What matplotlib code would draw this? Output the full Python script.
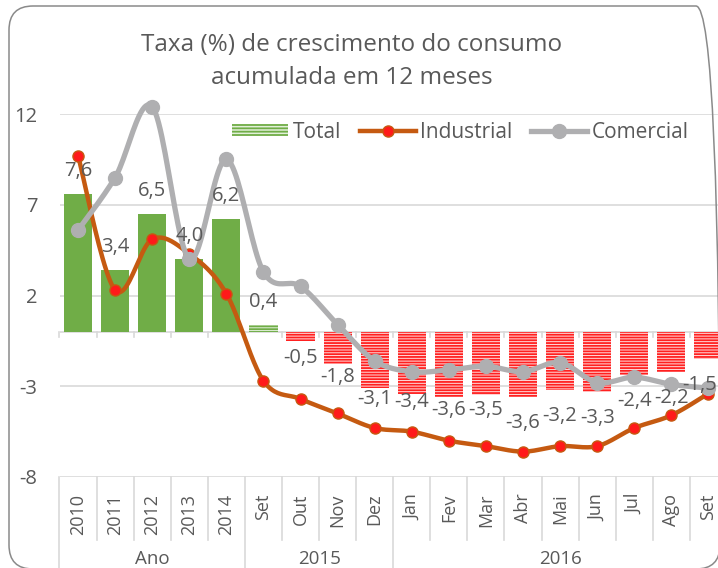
import matplotlib.pyplot as plt
import matplotlib.patches as mpatches
import matplotlib.transforms as mtransforms
from matplotlib.lines import Line2D
import numpy as np

plt.rcParams['font.family'] = ['Open Sans', 'DejaVu Sans']
plt.rcParams['hatch.linewidth'] = 1.3

CATEGORIES = ['2010', '2011', '2012', '2013', '2014',
              'Set', 'Out', 'Nov', 'Dez',
              'Jan', 'Fev', 'Mar', 'Abr', 'Mai', 'Jun', 'Jul', 'Ago', 'Set']
GROUPS = ['Ano', '2015', '2016']
GROUP_SIZES = [5, 4, 9]

TOTAL = [7.6, 3.4, 6.5, 4.0, 6.2, 0.4, -0.5, -1.8, -3.1, -3.4, -3.6, -3.5,
         -3.6, -3.2, -3.3, -2.4, -2.2, -1.5]
INDUSTRIAL = [9.7, 2.3, 5.1, 4.3, 2.1, -2.7, -3.7, -4.5, -5.3, -5.5, -6.0,
              -6.3, -6.6, -6.3, -6.3, -5.3, -4.6, -3.4]
COMERCIAL = [5.6, 8.5, 12.4, 4.0, 9.5, 3.3, 2.5, 0.4, -1.6, -2.2, -2.1,
             -1.9, -2.2, -1.7, -2.8, -2.5, -2.9, -3.1]

GREEN = '#70ad47'
RED = '#ff2020'
ORANGE = '#c55a11'
GREY_LINE = '#afafb1'
TEXT = '#595959'
GRID = '#d9d9d9'

W, H = 718, 568
# labels Excel pulled upward (px) to avoid the lines
LABEL_LIFT = {6: 9, 7: 13, 8: 15, 9: 18, 10: 13, 11: 11}


def fx(px):
    return px / W


def fy(py):
    return 1 - py / H


def smooth(xs, ys, steps=24):
    # Excel-like smoothed line (Catmull-Rom as cubic Bezier)
    p = np.column_stack([xs, ys]).astype(float)
    p = np.vstack([p[0], p, p[-1]])
    t = np.linspace(0, 1, steps)[:, None]
    out = []
    for i in range(1, len(p) - 2):
        b0 = p[i]
        b1 = p[i] + (p[i + 1] - p[i - 1]) / 6
        b2 = p[i + 1] - (p[i + 2] - p[i]) / 6
        b3 = p[i + 1]
        seg = ((1 - t) ** 3) * b0 + 3 * ((1 - t) ** 2) * t * b1 \
            + 3 * (1 - t) * t ** 2 * b2 + t ** 3 * b3
        out.append(seg if i == 1 else seg[1:])
    out = np.vstack(out)
    return out[:, 0], out[:, 1]


fig = plt.figure(figsize=(W / 100, H / 100), dpi=100)
ax = fig.add_axes([fx(59.5), fy(477), fx(727) - fx(59.5), fy(114) - fy(477)])

n = len(CATEGORIES)
x = np.arange(n)
annual = np.arange(n) < GROUP_SIZES[0]

# bars
for i, v in enumerate(TOTAL):
    if annual[i]:
        ax.bar(i, v, 0.76, color=GREEN, linewidth=0, zorder=2)
    elif v >= 0:
        ax.bar(i, v, 0.76, facecolor='#e2f0d9', edgecolor=GREEN,
               hatch='------', linewidth=0, zorder=2)
    else:
        ax.bar(i, v, 0.76, facecolor='#ffe0e0', edgecolor=RED,
               hatch='------', linewidth=0, zorder=2)

# lines
sx, sy = smooth(x, INDUSTRIAL)
ax.plot(sx, sy, color=ORANGE, lw=3.2, zorder=4, clip_on=False,
        solid_capstyle='round')
ax.plot(x, INDUSTRIAL, 'o', color='#ff1a1a', mec=ORANGE, mew=1.0, ms=8,
        zorder=4, clip_on=False)
sx, sy = smooth(x, COMERCIAL)
ax.plot(sx, sy, color=GREY_LINE, lw=3.8, zorder=5, clip_on=False,
        solid_capstyle='round')
ax.plot(x, COMERCIAL, 'o', color=GREY_LINE, mec=GREY_LINE, ms=10,
        zorder=5, clip_on=False)

# data labels
labels = []
for i, v in enumerate(TOTAL):
    txt = f'{v:.1f}'.replace('.', ',')
    if v >= 0:
        off = 23
    else:
        off = -26 + LABEL_LIFT.get(i, 0)
    labels.append(ax.annotate(txt, (i, v), xytext=(0, off * 0.72),
                              textcoords='offset points', ha='center',
                              va='center', fontsize=14.5, color=TEXT, zorder=6))

ax.set_xlim(-0.5, n - 0.5)
ax.set_ylim(-8, 12)
ax.set_yticks([-8, -3, 2, 7, 12])
ax.set_yticklabels(['-8', '-3', '2', '7', '12'])
ax.tick_params(axis='y', length=0, pad=16, labelsize=14.5, labelcolor=TEXT)
ax.yaxis.grid(True, color=GRID, lw=1.2)
ax.set_axisbelow(True)
for s in ax.spines.values():
    s.set_visible(False)

# zero axis line with boundary ticks
ax.axhline(0, color=GRID, lw=1.2, zorder=1)
for b in np.arange(n + 1) - 0.5:
    ax.plot([b, b], [0, -0.28], color=GRID, lw=1.2, zorder=1, clip_on=False)

# category labels at the bottom
ax.set_xticks(x)
ax.set_xticklabels(CATEGORIES, rotation=90)
ax.tick_params(axis='x', length=0, pad=12, labelsize=13, labelcolor=TEXT)

trans = mtransforms.blended_transform_factory(ax.transData, fig.transFigure)
inner_bottom = fy(540)
ends = np.cumsum(GROUP_SIZES) - 0.5
for b in np.arange(n + 1) - 0.5:
    bottom = 0 if (b == -0.5 or b in ends) else inner_bottom
    fig.add_artist(Line2D([b, b], [fy(477), bottom], transform=trans,
                          color=GRID, lw=1.2))
start = -0.5
for g, size in zip(GROUPS, GROUP_SIZES):
    fig.text((start + start + size) / 2, fy(559), g, transform=trans,
             ha='center', va='center', fontsize=13.5, color=TEXT)
    start += size

# legend
handles = [
    mpatches.Patch(facecolor='#e2f0d9', edgecolor=GREEN, hatch='-----',
                   linewidth=0, label='Total'),
    Line2D([0], [0], color=ORANGE, lw=3.2, marker='o', ms=8,
           mfc='#ff1a1a', mec=ORANGE, label='Industrial'),
    Line2D([0], [0], color=GREY_LINE, lw=3.8, marker='o', ms=10,
           mfc=GREY_LINE, mec=GREY_LINE, label='Comercial'),
]
leg = ax.legend(handles=handles, ncol=3, frameon=False, loc='center left',
                bbox_to_anchor=(fx(232), fy(132)), bbox_transform=fig.transFigure,
                fontsize=15, handlelength=2.7, handleheight=0.5,
                handletextpad=0.2, columnspacing=0.9, borderpad=0,
                borderaxespad=0)
for t in leg.get_texts():
    t.set_color(TEXT)

# title
fig.text(fx(352), fy(45), 'Taxa (%) de crescimento do consumo', ha='center',
         va='center', fontsize=17.5, color=TEXT)
fig.text(fx(352), fy(78), 'acumulada em 12 meses', ha='center',
         va='center', fontsize=17.5, color=TEXT)

# rounded chart frame
frame = mpatches.FancyBboxPatch((9 + 24, -1 + 24), 711 - 48, 563 - 48,
                                boxstyle='round,pad=24',
                                transform=mtransforms.IdentityTransform(),
                                facecolor='none', edgecolor='#8a8a8a', lw=1.1)
fig.add_artist(frame)

# keep data labels inside the visible chart, as Excel does
fig.canvas.draw()
renderer = fig.canvas.get_renderer()
for lab in labels:
    bb = lab.get_window_extent(renderer)
    if bb.x1 > W - 1:
        dx, dy = lab.xyann
        lab.xyann = (dx - (bb.x1 - (W - 1)) * 0.72, dy)

fig.savefig('out.png', dpi=100)
